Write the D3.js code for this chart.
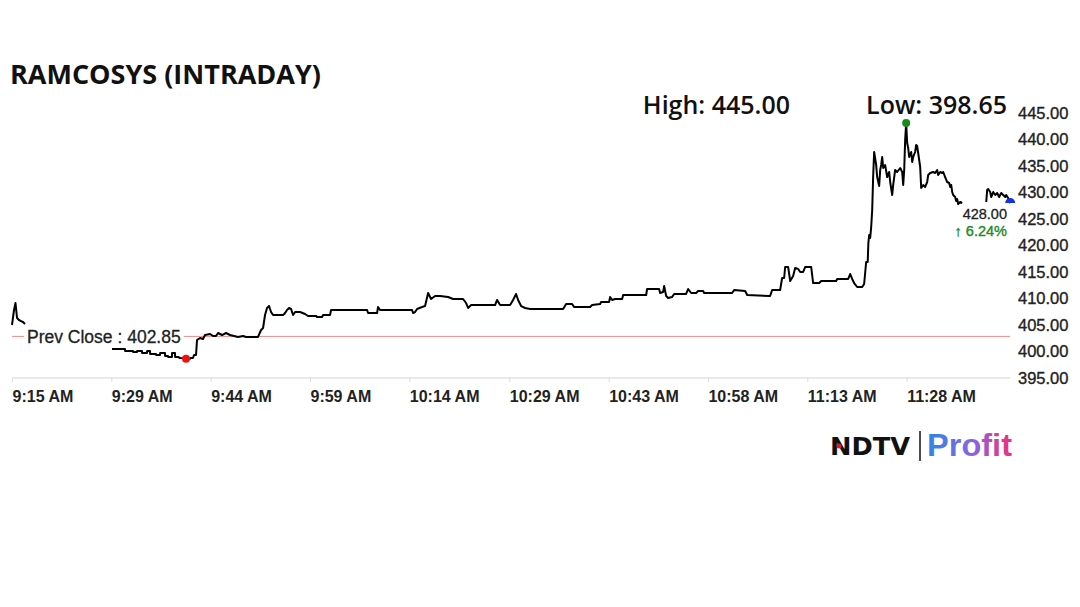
<!DOCTYPE html>
<html>
<head>
<meta charset="utf-8">
<script src="https://cdn.jsdelivr.net/npm/d3@7/dist/d3.min.js"></script>
<style>
    html, body { margin: 0; padding: 0; background: #fff; }
    #chart { width: 1080px; height: 607px; }
</style>
</head>
<body>
<div id="chart"></div>
<script>
// minutes after 9:15 AM, price
const openTicks = [[0,405.00],[0.30,407.83],[0.52,409.15],[0.75,406.32],[1.04,405.94],[1.34,405.75],[1.64,405.57],[1.94,405.19]];

const mainTicks = [
    [14.90,400.47],[16.84,400.47],[16.85,400.09],[18.03,400.09],[18.04,399.91],[18.63,399.91],[18.64,400.09],
    [19.37,400.09],[19.38,399.72],[20.12,399.72],[20.13,400.09],[20.57,400.09],[20.58,399.53],[21.46,399.53],
    [21.47,399.34],[22.06,399.34],[22.07,399.72],[22.80,399.72],[22.81,399.15],[23.25,399.15],[23.26,398.96],
    [23.84,398.96],[23.85,399.72],[24.29,399.72],[24.30,398.96],[24.74,398.96],[25.04,398.77],[25.48,398.75],
    [25.93,398.65],[26.53,398.65],[26.54,398.77],[26.97,398.77],[27.12,399.34],[27.42,399.34],[27.57,402.17],
    [28.02,402.55],[28.46,402.36],[28.76,403.11],[29.51,403.30],[29.96,402.92],[30.40,402.92],[30.70,403.49],
    [31.30,403.11],[31.89,403.49],[32.49,403.11],[33.08,402.92],[33.68,402.74],[34.43,402.92],[34.87,402.74],
    [36.66,402.74],[37.11,404.06],[37.41,404.43],[37.70,406.89],[38.00,408.21],[38.30,408.58],[38.60,407.45],
    [38.90,406.89],[40.39,406.89],[40.69,407.26],[40.98,407.83],[41.28,408.21],[41.58,408.02],[41.88,406.89],
    [42.18,407.45],[42.92,407.45],[43.67,407.08],[44.11,406.70],[45.31,406.70],[45.45,406.51],[46.20,406.51],
    [46.35,406.89],[47.39,406.89],[47.54,407.83],[52.91,407.83],[53.05,407.26],[54.40,407.26],[54.54,408.40],
    [54.84,407.83],[59.61,407.83],[59.76,407.26],[60.06,407.45],[60.36,408.02],[61.10,408.40],[61.55,408.58],
    [62.00,411.04],[62.44,409.91],[63.04,410.47],[63.79,410.47],[64.98,410.28],[65.72,409.91],[67.21,409.91],
    [67.66,409.15],[67.96,408.21],[68.41,408.77],[69.75,408.77],[71.98,408.77],[72.28,409.72],[72.73,408.77],
    [74.22,408.77],[74.66,409.72],[75.11,410.85],[75.41,409.72],[75.86,408.58],[76.45,408.21],[77.20,408.02],
    [82.12,408.02],[82.56,408.96],[83.46,408.96],[83.75,408.40],[86.14,408.40],[86.44,408.77],[87.63,408.96],
    [87.78,409.34],[88.97,409.34],[89.12,410.28],[89.42,409.72],[89.87,409.91],[90.91,409.91],[91.06,410.66],
    [94.49,410.66],[94.63,411.79],[96.42,411.79],[96.57,411.04],[97.02,411.23],[97.17,412.36],[97.47,410.47],
    [97.76,410.09],[98.36,410.28],[98.66,410.85],[100.44,410.85],[100.74,411.79],[101.19,411.04],[101.94,411.04],
    [102.23,411.42],[102.98,411.42],[103.13,411.04],[107.30,411.04],[107.60,411.60],[109.24,411.42],[109.54,410.66],
    [112.96,410.47],[113.26,411.60],[114.45,411.60],[114.75,413.87],[115.05,413.87],[115.20,415.94],[115.65,415.94],
    [115.95,413.30],[116.39,414.25],[116.69,415.75],[117.14,415.57],[117.44,415.00],[117.88,415.00],[118.18,415.94],
    [119.08,415.94],[119.37,412.92],[120.27,412.92],[120.57,413.30],[122.80,413.30],[122.95,413.68],[124.59,413.68],
    [124.89,414.62],[125.19,413.68],[125.48,412.92],[125.93,412.17],[126.68,412.17],[126.97,412.74],[127.12,414.81],
    [127.27,416.89],[127.50,416.89],[127.60,420.47],[127.72,421.98],[127.87,421.42],[128.02,423.49],[128.17,426.70],
    [128.31,432.92],[128.46,437.64],[128.76,435.19],[128.91,432.92],[129.21,431.23],[129.36,434.25],[129.51,435.19],
    [129.66,436.70],[129.81,434.62],[130.10,435.19],[130.40,432.92],[130.70,433.87],[130.85,431.98],[131.15,429.53],
    [131.30,431.42],[131.59,434.25],[131.89,433.87],[132.34,434.62],[132.64,433.87],[132.79,431.42],[132.94,434.25],
    [133.08,439.91],[133.23,443.11],[133.38,439.34],[133.53,438.40],[133.68,436.70],[133.98,437.64],[134.13,435.75],
    [134.28,436.70],[134.57,437.64],[134.72,438.96],[134.87,438.77],[135.02,437.45],[135.32,434.81],[135.47,430.85],
    [135.77,431.42],[136.06,431.04],[136.36,431.98],[136.51,433.30],[136.81,433.68],[137.25,433.87],[137.55,433.68],
    [137.85,434.25],[138.00,433.30],[138.30,433.87],[138.60,433.68],[138.75,433.87],[139.04,432.92],[139.34,431.98],
    [139.64,431.79],[139.79,431.04],[139.94,431.42],[140.09,430.09],[140.24,429.53],[140.53,429.15],[140.68,428.40],
    [140.83,428.77],[140.98,427.83],[141.28,428.21],[141.58,428.02]
];

const lateTicks = [
    [145.16,428.21],[145.30,430.47],[145.45,430.66],[145.75,430.09],[145.90,429.15],[146.20,430.09],[146.50,429.53],
    [146.79,429.91],[147.09,429.15],[147.39,429.91],[147.69,429.53],[147.99,429.15],[148.14,429.53],[148.43,428.96],
    [148.73,428.00]
];

const xTickMinutes = [0, 14.8, 29.6, 44.4, 59.2, 74.1, 88.9, 103.7, 118.5, 133.3];
const xTickLabels = ['9:15 AM', '9:29 AM', '9:44 AM', '9:59 AM', '10:14 AM', '10:29 AM', '10:43 AM', '10:58 AM', '11:13 AM', '11:28 AM'];
const yTickValues = [395, 400, 405, 410, 415, 420, 425, 430, 435, 440, 445];

const prevClose = 402.85;
const dayHigh = 445.00;
const dayLow = 398.65;
const lastPrice = 428.00;

document.addEventListener('DOMContentLoaded', () => {
    const width = 1080;
    const height = 607;

    const svg = d3.select('#chart')
        .append('svg')
        .attr('width', width)
        .attr('height', height)
        .style('font-family', 'Liberation Sans, Arial, sans-serif');

    // scales
    const x = d3.scaleLinear().domain([0, 149]).range([12, 1012]);
    const y = d3.scaleLinear().domain([395, 445]).range([378, 113]);

    // title
    svg.append('text')
        .attr('x', 10)
        .attr('y', 84)
        .style('font-family', 'Open Sans, sans-serif')
        .style('font-weight', 700)
        .style('font-size', '27px')
        .attr('fill', '#111')
        .text('RAMCOSYS (INTRADAY)');

    // high / low
    svg.append('text')
        .attr('x', 790)
        .attr('y', 114)
        .attr('text-anchor', 'end')
        .style('font-family', 'Open Sans, sans-serif')
        .style('font-weight', 600)
        .style('font-size', '25px')
        .attr('fill', '#111')
        .text(`High: ${dayHigh.toFixed(2)}`);

    svg.append('text')
        .attr('x', 1007)
        .attr('y', 114)
        .attr('text-anchor', 'end')
        .style('font-family', 'Open Sans, sans-serif')
        .style('font-weight', 600)
        .style('font-size', '25px')
        .attr('fill', '#111')
        .text(`Low: ${dayLow.toFixed(2)}`);

    // x axis
    svg.append('line')
        .attr('x1', x(0))
        .attr('x2', 1010)
        .attr('y1', y(395))
        .attr('y2', y(395))
        .attr('stroke', '#e3e3e3')
        .attr('stroke-width', 1.5);

    const xAxis = svg.append('g')
        .attr('transform', `translate(0,${y(395)})`)
        .call(d3.axisBottom(x)
            .tickValues(xTickMinutes)
            .tickFormat((d, i) => xTickLabels[i])
            .tickSize(4)
            .tickPadding(9));
    xAxis.select('.domain').remove();
    xAxis.selectAll('line').attr('stroke', '#dcdcdc');
    xAxis.selectAll('text')
        .attr('text-anchor', 'start')
        .attr('fill', '#222')
        .style('font-family', 'Liberation Sans, Arial, sans-serif')
        .style('font-size', '16px')
        .style('font-weight', 'bold');

    // y axis
    const yAxis = svg.append('g')
        .attr('transform', 'translate(1018,0)')
        .call(d3.axisRight(y)
            .tickValues(yTickValues)
            .tickFormat(d3.format('.2f'))
            .tickSize(0)
            .tickPadding(0));
    yAxis.select('.domain').remove();
    yAxis.selectAll('text')
        .attr('fill', '#222')
        .attr('stroke', '#222')
        .attr('stroke-width', 0.35)
        .style('font-family', 'Liberation Sans, Arial, sans-serif')
        .style('font-size', '16.5px');

    // prev close line
    svg.append('line')
        .attr('x1', x(0))
        .attr('x2', 1010)
        .attr('y1', y(prevClose))
        .attr('y2', y(prevClose))
        .attr('stroke', '#f08a8a')
        .attr('stroke-width', 1);

    // price line
    const line = d3.line()
        .x(d => x(d[0]))
        .y(d => y(d[1]));

    [openTicks, mainTicks, lateTicks].forEach(seg => {
        svg.append('path')
            .datum(seg)
            .attr('fill', 'none')
            .attr('stroke', '#000')
            .attr('stroke-width', 2)
            .attr('stroke-linejoin', 'round')
            .attr('d', line);
    });

    // prev close label
    const pcGroup = svg.append('g');
    const pcText = pcGroup.append('text')
        .attr('x', 27)
        .attr('y', y(prevClose))
        .attr('dy', '0.35em')
        .attr('fill', '#222')
        .attr('stroke', '#222')
        .attr('stroke-width', 0.3)
        .style('font-size', '17.5px')
        .text(`Prev Close : ${prevClose.toFixed(2)}`);
    const bb = pcText.node().getBBox();
    pcGroup.insert('rect', 'text')
        .attr('x', bb.x - 3)
        .attr('y', bb.y)
        .attr('width', bb.width + 6)
        .attr('height', bb.height)
        .attr('fill', '#fff');

    // high / low markers
    const allTicks = openTicks.concat(mainTicks, lateTicks);
    const hi = allTicks.reduce((a, b) => (b[1] > a[1] ? b : a));
    const lo = allTicks.reduce((a, b) => (b[1] < a[1] ? b : a));

    svg.append('circle')
        .attr('cx', x(hi[0]))
        .attr('cy', y(hi[1]))
        .attr('r', 4)
        .attr('fill', '#178a17');

    svg.append('circle')
        .attr('cx', x(lo[0]))
        .attr('cy', y(lo[1]))
        .attr('r', 4)
        .attr('fill', '#ee1111');

    // last price marker
    const last = lateTicks[lateTicks.length - 1];
    svg.append('path')
        .attr('transform', `translate(${x(last[0])},${y(last[1])})`)
        .attr('d', d3.arc()({ innerRadius: 0, outerRadius: 5, startAngle: -Math.PI / 2, endAngle: Math.PI / 2 }))
        .attr('fill', '#1530e0');

    // last price label
    svg.append('text')
        .attr('x', 1007)
        .attr('y', y(last[1]) + 16)
        .attr('text-anchor', 'end')
        .attr('fill', '#222')
        .attr('stroke', '#222')
        .attr('stroke-width', 0.3)
        .style('font-size', '14.5px')
        .text(lastPrice.toFixed(2));

    const change = (lastPrice - prevClose) / prevClose * 100;
    svg.append('text')
        .attr('x', 1007)
        .attr('y', y(last[1]) + 33)
        .attr('text-anchor', 'end')
        .attr('fill', '#1f8a1f')
        .attr('stroke', '#1f8a1f')
        .attr('stroke-width', 0.4)
        .style('font-size', '14.5px')
        .text(`\u2191 ${change.toFixed(2)}%`);

    // logo
    const defs = svg.append('defs');
    const grad = defs.append('linearGradient')
        .attr('id', 'profit-grad')
        .attr('x1', '0%').attr('x2', '100%')
        .attr('y1', '0%').attr('y2', '0%');
    grad.append('stop').attr('offset', '0%').attr('stop-color', '#2f86e6');
    grad.append('stop').attr('offset', '55%').attr('stop-color', '#8a63e0');
    grad.append('stop').attr('offset', '100%').attr('stop-color', '#f0307a');

    svg.append('text')
        .attr('x', 830)
        .attr('y', 455)
        .attr('fill', '#111')
        .attr('textLength', 80)
        .attr('lengthAdjust', 'spacingAndGlyphs')
        .style('font-family', 'DejaVu Sans, sans-serif')
        .style('font-weight', 'bold')
        .style('font-size', '24px')
        .text('NDTV');

    svg.append('circle')
        .attr('cx', 839)
        .attr('cy', 446)
        .attr('r', 2.5)
        .attr('fill', '#e21b1b');

    svg.append('line')
        .attr('x1', 920).attr('x2', 920)
        .attr('y1', 431).attr('y2', 461)
        .attr('stroke', '#111')
        .attr('stroke-width', 1.5);

    svg.append('text')
        .attr('x', 927)
        .attr('y', 456)
        .attr('fill', 'url(#profit-grad)')
        .attr('textLength', 85)
        .attr('lengthAdjust', 'spacingAndGlyphs')
        .style('font-family', 'Liberation Sans, Arial, sans-serif')
        .style('font-weight', 'bold')
        .style('font-size', '31px')
        .text('Profit');
});
</script>
</body>
</html>
